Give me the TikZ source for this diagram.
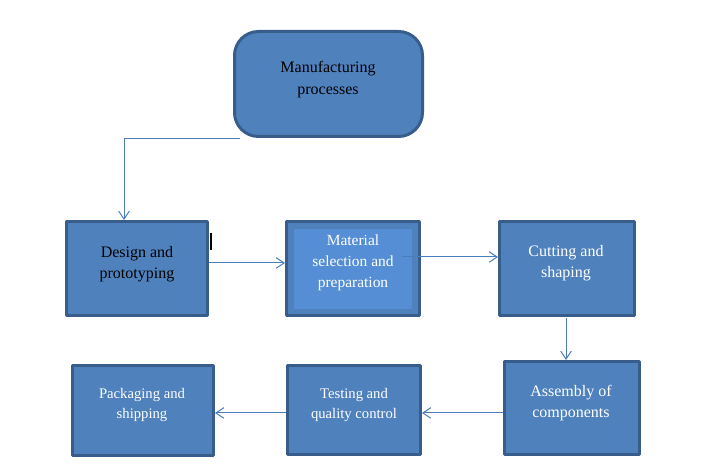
\documentclass[tikz,border=0pt]{standalone}
\usepackage{fontspec}
\setmainfont{Liberation Serif}
\usetikzlibrary{calc,arrows.meta}
\definecolor{boxfill}{HTML}{4F81BD}
\definecolor{boxline}{HTML}{385D8A}
\definecolor{innerfill}{HTML}{558ED5}
\definecolor{arrcol}{HTML}{4A7EBB}
\tikzset{
  box/.style={draw=boxline, fill=boxfill, line width=2.25pt, line join=round, inner sep=0pt},
  lbl/.style={align=center, font=\fontsize{12pt}{16pt}\selectfont, inner sep=0pt},
  lblsmall/.style={align=center, font=\fontsize{11pt}{15pt}\selectfont, inner sep=0pt},
  arr/.style={draw=arrcol, line width=0.75pt, -{Straight Barb[length=6pt,width=8pt]}}
}
\begin{document}
\begin{tikzpicture}[x=0.75pt,y=-0.75pt]
\useasboundingbox (0,0) rectangle (711,473);
% boxes
\node[box, rounded corners=18pt, minimum width=188*0.75pt, minimum height=105*0.75pt] (mp) at (328.5,84) {};
\node[box, minimum width=141*0.75pt, minimum height=94*0.75pt] (dp) at (137,268.5) {};
\node[box, minimum width=133*0.75pt, minimum height=94*0.75pt] (ms) at (353,268.5) {};
\node[fill=innerfill, minimum width=118*0.75pt, minimum height=80*0.75pt, inner sep=0pt] (msin) at (353,269) {};
\node[box, minimum width=135*0.75pt, minimum height=94*0.75pt] (cs) at (567,268.5) {};
\node[box, minimum width=135*0.75pt, minimum height=93*0.75pt] (as) at (572,408) {};
\node[box, minimum width=133*0.75pt, minimum height=89*0.75pt] (ts) at (354,410) {};
\node[box, minimum width=141*0.75pt, minimum height=90*0.75pt] (pk) at (143,410.5) {};
% labels
\node[lbl, text=black] (mpt) at (328,79.5) {Manufacturing\\processes};
\node[lbl, text=black] (dpt) at (137,264) {Design and\\prototyping};
\node[lbl, font=\fontsize{11.6pt}{15.75pt}\selectfont, text=white] (mst) at (353,263) {Material\\selection and\\preparation};
\node[lbl, text=white] (cst) at (566,263) {Cutting and\\shaping};
\node[lbl, text=white] (ast) at (571,403) {Assembly of\\components};
\node[lblsmall, text=white] (tst) at (354,404.5) {Testing and\\quality control};
\node[lblsmall, text=white] (pkt) at (142,404.5) {Packaging and\\shipping};
% connectors
\coordinate (mpout) at (240,139);
\draw[arr] (mpout) -| ($(dp.north)+(-13,0)$);
\coordinate (d1) at ($(dp.east)+(0,-5.5)$);
\draw[arr] (d1) -- (d1 -| ms.west);
\coordinate (m1) at ($(ms.east)+(-19,-11.5)$);
\draw[arr] (m1) -- (m1 -| cs.west);
\coordinate (c1) at ($(cs.south)+(-1,1)$);
\draw[arr] (c1) -- (c1 |- as.north);
\coordinate (a1) at ($(as.west)+(0,5)$);
\draw[arr] (a1) -- (a1 -| ts.east);
\coordinate (t1) at ($(ts.west)+(0,3)$);
\draw[arr] (t1) -- (t1 -| pk.east);
% stray cursor mark
\coordinate (cur) at (211,233);
\draw[black, line width=0.9pt] (cur) -- ++(0,17);
\end{tikzpicture}
\end{document}
